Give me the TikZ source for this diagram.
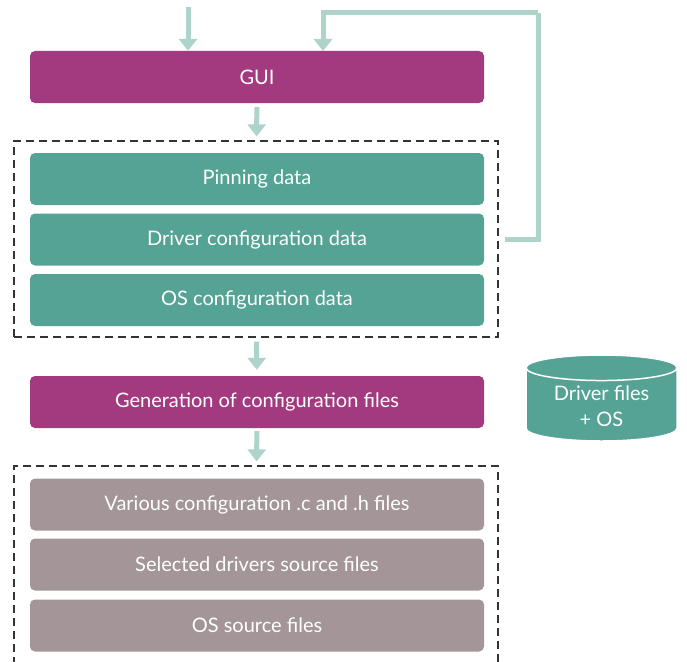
\documentclass[tikz,border=0pt]{standalone}
\usepackage{fontspec}
\setmainfont{Lato}
\usetikzlibrary{arrows.meta}
\usetikzlibrary{shapes.geometric}

\definecolor{guimag}{HTML}{A33A7F}
\definecolor{datagreen}{HTML}{55A395}
\definecolor{filegrey}{HTML}{A39598}
\definecolor{flowgreen}{HTML}{AED3CB}

\tikzset{
    block/.style={rounded corners=5pt, minimum width=454pt, minimum height=52pt,
        text=white, font=\fontsize{20}{24}\selectfont},
    group/.style={draw=black!80, line width=1.2pt, dash pattern=on 8pt off 5pt,
        minimum width=484pt},
    flow/.style={draw=flowgreen, line width=5pt,
        -{Triangle[width=18pt,length=12pt]}, color=flowgreen},
}

\begin{document}
\begin{tikzpicture}[x=1pt,y=-1pt]
            \useasboundingbox (0,0) rectangle (687,661);

            \node[group, minimum height=196pt] (cfgbox) at (256,239) {};
            \node[group, minimum height=206pt] (srcbox) at (256,569) {};

            \node[block, fill=guimag] (gui) at (257,77) {GUI};
            \node[block, fill=datagreen] (pin) at (257,179) {Pinning data};
            \node[block, fill=datagreen] (drv) at (257,239.5) {Driver configuration data};
            \node[block, fill=datagreen] (osc) at (257,300) {OS configuration data};
            \node[block, fill=guimag] (gen) at (257,402) {Generation of configuration files};
            \node[block, fill=filegrey] (var) at (257,504.5) {Various configuration .c and .h files};
            \node[block, fill=filegrey] (sel) at (257,564.5) {Selected drivers source files};
            \node[block, fill=filegrey] (oss) at (257,625.5) {OS source files};

            \node[cylinder, shape border rotate=90, aspect=0.25, fill=datagreen, draw=white,
                line width=1.5pt, minimum width=151pt, minimum height=86pt, text=white,
                align=center, anchor=shape center, font=\fontsize{20}{26}\selectfont]
                (drvfiles) at (601.5,398) {\raisebox{-5pt}{Driver files}\\\raisebox{-5pt}{+ OS}};

            \coordinate (entry) at (188,7);
            \coordinate (back) at (538,13);

            \draw[flow] (entry) to (entry |- gui.north);
            \draw[flow, -] ([xshift=6pt]cfgbox.east |- drv) -| (back);
            \draw[flow] (back) -| (323,51);
            \draw[flow, shorten <=4pt, shorten >=4pt] (gui) to (cfgbox);
            \draw[flow, shorten <=4pt, shorten >=6pt] (cfgbox) to (gen);
            \draw[flow, shorten <=3pt, shorten >=4pt] (gen) to (srcbox);
        \end{tikzpicture}
\end{document}
